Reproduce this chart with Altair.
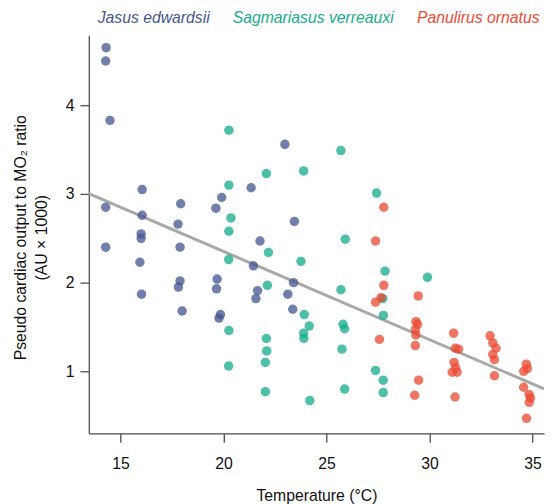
import altair as alt
import pandas as pd

species = ["Jasus edwardsii", "Sagmariasus verreauxi", "Panulirus ornatus"]
colors = ["#46578f", "#16ac8c", "#ea4b33"]

jasus_temp = [14.30, 14.28, 14.49, 16.05, 14.28, 19.91, 17.92, 19.63, 16.05, 17.79,
              16.00, 16.00, 14.28, 17.89, 15.94, 19.69, 19.66, 17.89, 17.81, 16.02,
              17.99, 19.85, 19.78, 22.98, 21.34, 23.44, 21.77, 21.45, 21.65, 21.57,
              23.40, 23.12, 23.36]
jasus_ratio = [4.65, 4.50, 3.83, 3.05, 2.85, 2.96, 2.89, 2.84, 2.76, 2.66,
               2.55, 2.50, 2.40, 2.40, 2.23, 2.04, 1.93, 2.02, 1.95, 1.87,
               1.68, 1.64, 1.60, 3.56, 3.07, 2.69, 2.47, 2.19, 1.91, 1.82,
               2.00, 1.87, 1.70]

sagm_temp = [20.26, 20.26, 20.36, 20.26, 20.25, 20.26, 20.25, 22.08, 22.18, 22.13,
             22.08, 22.10, 22.03, 22.03, 23.89, 23.76, 23.92, 24.16, 23.89, 23.90,
             24.19, 25.70, 25.91, 25.70, 25.80, 25.88, 25.75, 25.88, 27.43, 27.84,
             29.90, 27.73, 27.76, 27.38, 27.75, 27.75]
sagm_ratio = [3.72, 3.10, 2.73, 2.58, 2.26, 1.46, 1.06, 3.23, 2.34, 1.97,
              1.37, 1.23, 1.10, 0.77, 3.26, 2.24, 1.64, 1.51, 1.43, 1.37,
              0.67, 3.49, 2.49, 1.92, 1.53, 1.48, 1.25, 0.80, 3.01, 2.13,
              2.06, 1.82, 1.63, 1.01, 0.90, 0.76]

panu_temp = [27.78, 27.38, 27.78, 27.65, 27.38, 29.45, 27.57, 29.34, 29.42, 29.31,
             29.34, 29.31, 29.47, 29.28, 31.17, 31.25, 31.41, 31.19, 31.27, 31.10,
             31.34, 31.24, 32.94, 33.07, 33.23, 33.07, 33.15, 33.15, 34.70, 34.75,
             34.57, 34.57, 34.83, 34.90, 34.84, 34.71]
panu_ratio = [2.85, 2.47, 1.97, 1.83, 1.78, 1.85, 1.36, 1.56, 1.53, 1.47,
              1.41, 1.29, 0.90, 0.73, 1.43, 1.26, 1.25, 1.10, 1.04, 0.99,
              0.99, 0.71, 1.40, 1.32, 1.26, 1.19, 1.13, 0.95, 1.08, 1.03,
              1.00, 0.82, 0.74, 0.70, 0.65, 0.47]

x_ticks = [15, 20, 25, 30, 35]
y_ticks = [1, 2, 3, 4]
x_domain = [13.46, 35.56]
y_domain = [0.30, 4.79]

rows = []
for sp, temps, ratios in [
    (species[0], jasus_temp, jasus_ratio),
    (species[1], sagm_temp, sagm_ratio),
    (species[2], panu_temp, panu_ratio),
]:
    for t, r in zip(temps, ratios):
        rows.append({"species": sp, "temp": t, "ratio": r})
df = pd.DataFrame(rows)

FONT = "Liberation Sans"
axis_common = dict(
    grid=False,
    domainColor="#4d4d4d",
    domainWidth=1.3,
    tickColor="#4d4d4d",
    tickWidth=1.3,
    tickSize=9,
    labelFont=FONT,
    labelFontSize=16,
    labelColor="#111111",
    titleFont=FONT,
    titleFontSize=16,
    titleFontWeight="normal",
    titleColor="#111111",
)

x_enc = alt.X(
    "temp:Q",
    scale=alt.Scale(domain=x_domain, nice=False, zero=False),
    axis=alt.Axis(
        values=x_ticks,
        title="Temperature (°C)",
        labelPadding=14,
        titleY=63,
        titleBaseline="middle",
        **axis_common,
    ),
)
y_enc = alt.Y(
    "ratio:Q",
    scale=alt.Scale(domain=y_domain, nice=False, zero=False),
    axis=alt.Axis(
        values=y_ticks,
        title=["Pseudo cardiac output to MO₂ ratio", "(AU × 1000)"],
        labelPadding=6,
        titleAngle=270,
        titleX=-69,
        titleY=205,
        titleBaseline="middle",
        titleAlign="center",
        titleLineHeight=21,
        **axis_common,
    ),
)

label_color_expr = (
    f"datum.value === '{species[0]}' ? '{colors[0]}' : "
    f"datum.value === '{species[1]}' ? '{colors[1]}' : '{colors[2]}'"
)

line = (
    alt.Chart(df)
    .transform_regression("temp", "ratio", extent=x_domain)
    .mark_line(color="#a8a8a8", strokeWidth=3, clip=True)
    .encode(x=x_enc, y=y_enc)
)

points = (
    alt.Chart(df)
    .mark_circle(size=92, opacity=0.76)
    .encode(
        x=x_enc,
        y=y_enc,
        color=alt.Color(
            "species:N",
            scale=alt.Scale(domain=species, range=colors),
            legend=alt.Legend(
                title=None,
                orient="none",
                legendX=-7,
                legendY=-25,
                direction="horizontal",
                symbolSize=0,
                symbolOpacity=0,
                symbolStrokeWidth=0,
                labelOffset=0,
                labelFont=FONT,
                labelFontSize=16,
                labelFontStyle="italic",
                labelLimit=400,
                columnPadding=7,
                labelColor=alt.ExprRef(label_color_expr),
            ),
        ),
    )
)

chart = (
    alt.layer(line, points)
    .properties(
        width=462,
        height=404,
        autosize=alt.AutoSizeParams(type="none"),
        padding={"left": 82, "top": 24, "right": 4, "bottom": 68},
    )
    .configure_view(stroke=None)
)

chart.save("out.html", embed_options={"renderer": "svg", "actions": False})
